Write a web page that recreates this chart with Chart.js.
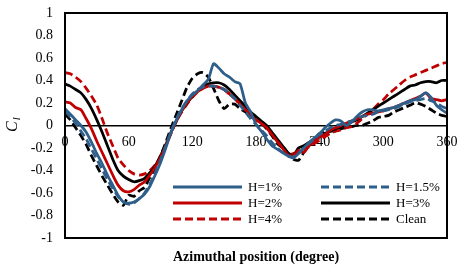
<!DOCTYPE html>
<html>
<head>
<meta charset="utf-8">
<script src="https://cdn.jsdelivr.net/npm/chart.js@4.4.0/dist/chart.umd.min.js"></script>
<style>
    html, body { margin: 0; padding: 0; background: #fff; }
    #wrap { width: 459px; height: 268px; }
</style>
</head>
<body>
<div id="wrap"><canvas id="myLineChart"></canvas></div>
<script>
// azimuthal position (degree), every 5 degrees
const angles = [];
for (let a = 0; a <= 360; a += 5) angles.push(a);

// lift coefficient C_l for each roughness height
const h1 = [0.15, 0.10, 0.05, 0.00, -0.06, -0.15, -0.25, -0.34, -0.44, -0.53, -0.62, -0.68, -0.69, -0.68, -0.65, -0.61, -0.54, -0.44, -0.33,
    -0.20, -0.06, 0.05, 0.14, 0.22, 0.27, 0.31, 0.36, 0.41, 0.55, 0.51, 0.46, 0.43, 0.39, 0.37, 0.20, 0.12, 0.01,
    -0.05, -0.12, -0.18, -0.21, -0.24, -0.27, -0.29, -0.25, -0.20, -0.15, -0.11, -0.07, -0.02, 0.02, 0.05, 0.04, 0.00,
    0.03, 0.08, 0.12, 0.14, 0.14, 0.13, 0.14, 0.15, 0.16, 0.18, 0.20, 0.22, 0.23, 0.26, 0.29, 0.25, 0.18, 0.14, 0.11];
const h15 = [0.13, 0.08, 0.02, -0.05, -0.12, -0.21, -0.30, -0.39, -0.48, -0.56, -0.63, -0.68, -0.70, -0.69, -0.65, -0.60, -0.52, -0.42, -0.31,
    -0.18, -0.05, 0.06, 0.15, 0.22, 0.28, 0.32, 0.34, 0.35, 0.35, 0.34, 0.32, 0.28, 0.24, 0.18, 0.12, 0.06, 0.01,
    -0.04, -0.09, -0.15, -0.20, -0.24, -0.27, -0.28, -0.25, -0.20, -0.16, -0.12, -0.08, -0.05, -0.02, 0.00, 0.01, 0.03,
    0.04, 0.06, 0.08, 0.09, 0.10, 0.12, 0.13, 0.14, 0.15, 0.17, 0.19, 0.21, 0.22, 0.23, 0.24, 0.22, 0.20, 0.17, 0.15];
const h2 = [0.21, 0.20, 0.16, 0.14, 0.06, -0.03, -0.14, -0.24, -0.34, -0.44, -0.53, -0.58, -0.59, -0.57, -0.53, -0.50, -0.44, -0.37, -0.28,
    -0.18, -0.06, 0.04, 0.13, 0.20, 0.26, 0.30, 0.33, 0.35, 0.35, 0.34, 0.32, 0.28, 0.24, 0.19, 0.14, 0.09, 0.05,
    0.02, -0.02, -0.08, -0.14, -0.20, -0.26, -0.27, -0.22, -0.24, -0.18, -0.14, -0.10, -0.08, -0.04, -0.02, 0.00, 0.02,
    0.04, 0.06, 0.08, 0.10, 0.11, 0.12, 0.13, 0.15, 0.16, 0.18, 0.20, 0.22, 0.24, 0.26, 0.29, 0.24, 0.23, 0.22, 0.23];
const h3 = [0.37, 0.35, 0.32, 0.29, 0.23, 0.15, 0.05, -0.06, -0.18, -0.30, -0.40, -0.45, -0.48, -0.50, -0.49, -0.47, -0.42, -0.36, -0.27,
    -0.17, -0.06, 0.04, 0.13, 0.20, 0.26, 0.31, 0.35, 0.37, 0.38, 0.38, 0.36, 0.32, 0.27, 0.22, 0.17, 0.12, 0.08,
    0.04, 0.00, -0.06, -0.12, -0.18, -0.24, -0.27, -0.20, -0.18, -0.15, -0.12, -0.09, -0.07, -0.05, -0.03, -0.01, 0.01,
    0.03, 0.05, 0.08, 0.11, 0.14, 0.17, 0.20, 0.23, 0.26, 0.29, 0.32, 0.35, 0.36, 0.38, 0.39, 0.39, 0.38, 0.40, 0.40];
const h4 = [0.47, 0.46, 0.43, 0.39, 0.33, 0.26, 0.18, 0.06, -0.07, -0.18, -0.29, -0.35, -0.40, -0.43, -0.44, -0.43, -0.40, -0.35, -0.28,
    -0.18, -0.07, 0.04, 0.12, 0.19, 0.25, 0.30, 0.33, 0.35, 0.35, 0.34, 0.32, 0.28, 0.24, 0.19, 0.14, 0.10, 0.06,
    0.02, -0.02, -0.08, -0.14, -0.20, -0.26, -0.25, -0.23, -0.20, -0.19, -0.16, -0.13, -0.10, -0.07, -0.05, -0.04, -0.02,
    -0.01, 0.02, 0.06, 0.10, 0.14, 0.19, 0.23, 0.28, 0.32, 0.36, 0.40, 0.43, 0.45, 0.47, 0.49, 0.51, 0.53, 0.55, 0.56];
const clean = [0.10, 0.05, -0.02, -0.09, -0.17, -0.27, -0.36, -0.45, -0.53, -0.61, -0.68, -0.71, -0.62, -0.63, -0.58, -0.55, -0.46, -0.38, -0.27,
    -0.15, -0.02, 0.10, 0.22, 0.34, 0.42, 0.46, 0.47, 0.43, 0.33, 0.22, 0.15, 0.19, 0.19, 0.15, 0.12, 0.08, 0.05,
    0.02, -0.03, -0.09, -0.16, -0.20, -0.26, -0.30, -0.31, -0.24, -0.18, -0.12, -0.07, -0.06, -0.05, -0.05, -0.03, -0.02,
    -0.01, 0.00, 0.00, 0.02, 0.04, 0.07, 0.08, 0.09, 0.12, 0.14, 0.16, 0.18, 0.20, 0.19, 0.17, 0.14, 0.11, 0.09, 0.08];

const series_names = ['H=1%', 'H=1.5%', 'H=2%', 'H=3%', 'H=4%', 'Clean'];
const x_ticks = [0, 60, 120, 180, 240, 300, 360];
const y_ticks = [-1, -0.8, -0.6, -0.4, -0.2, 0, 0.2, 0.4, 0.6, 0.8, 1];

const serif = "'Liberation Serif', 'Times New Roman', serif";
const blue = '#2E5E8A';
const red = '#C00000';
const dash = [8, 4];

function to_points(vals) {
    return vals.map((v, i) => ({ x: angles[i], y: v }));
}

function make_set(label, vals, color, dashed) {
    return {
        label: label,
        data: to_points(vals),
        borderColor: color,
        backgroundColor: color,
        borderWidth: 2.75,
        borderDash: dashed ? dash : [],
        pointRadius: 0,
        tension: 0.2,
        fill: false
    };
}

// frame, custom two-column legend and axis titles
const deco_plugin = {
    id: 'deco_plugin',
    afterDraw(chart) {
        const ctx = chart.ctx;
        const a = chart.chartArea;
        ctx.save();

        ctx.strokeStyle = '#000';
        ctx.lineWidth = 2;
        ctx.strokeRect(a.left, a.top, a.right - a.left, a.bottom - a.top);

        // legend
        const cols = [a.left + 108, a.left + 256];
        const rows = [a.bottom - 51, a.bottom - 35, a.bottom - 19];
        ctx.font = '13px ' + serif;
        ctx.textBaseline = 'middle';
        ctx.textAlign = 'left';
        chart.data.datasets.forEach((ds, i) => {
            const cx = cols[i % 2];
            const cy = rows[Math.floor(i / 2)];
            ctx.beginPath();
            ctx.setLineDash(ds.borderDash);
            ctx.strokeStyle = ds.borderColor;
            ctx.lineWidth = 3;
            ctx.moveTo(cx, cy);
            ctx.lineTo(cx + 69, cy);
            ctx.stroke();
            ctx.setLineDash([]);
            ctx.fillStyle = '#000';
            ctx.fillText(ds.label, cx + 75, cy + 1);
        });

        // x title
        ctx.font = 'bold 14px ' + serif;
        ctx.textAlign = 'center';
        ctx.fillText('Azimuthal position (degree)', (a.left + a.right) / 2, 257);

        // y title C_l
        ctx.translate(13, 132);
        ctx.rotate(-Math.PI / 2);
        ctx.textAlign = 'left';
        ctx.font = 'italic 16px ' + serif;
        ctx.fillText('C', 0, 0);
        const w = ctx.measureText('C').width;
        ctx.font = 'italic 11px ' + serif;
        ctx.fillText('l', w + 1, 4);
        ctx.restore();
    }
};

window.onload = () => {
    const ctx = document.getElementById('myLineChart').getContext('2d');
    window.myLineChart = new Chart(ctx, {
        type: 'line',
        data: {
            datasets: [
                make_set(series_names[0], h1, blue, false),
                make_set(series_names[1], h15, blue, true),
                make_set(series_names[2], h2, red, false),
                make_set(series_names[3], h3, '#000', false),
                make_set(series_names[4], h4, red, true),
                make_set(series_names[5], clean, '#000', true)
            ]
        },
        options: {
            responsive: true,
            maintainAspectRatio: false,
            animation: false,
            layout: {
                padding: { left: 0, top: 13, right: 12, bottom: 30 }
            },
            plugins: {
                legend: { display: false },
                tooltip: { enabled: false }
            },
            scales: {
                x: {
                    type: 'linear',
                    position: { y: 0 },
                    min: 0,
                    max: 360,
                    afterBuildTicks: (s) => { s.ticks = x_ticks.map(v => ({ value: v })); },
                    afterFit: (s) => { s.paddingLeft = 0; s.paddingRight = 0; },
                    ticks: {
                        color: '#000',
                        font: { family: serif, size: 14 },
                        padding: 8,
                        maxRotation: 0
                    },
                    grid: { display: false, drawTicks: false },
                    border: { display: true, color: '#000', width: 1.5 }
                },
                y: {
                    min: -1,
                    max: 1,
                    afterBuildTicks: (s) => { s.ticks = y_ticks.map(v => ({ value: v })); },
                    afterFit: (s) => { s.width = 65; s.paddingTop = 0; s.paddingBottom = 0; },
                    ticks: {
                        color: '#000',
                        font: { family: serif, size: 14 },
                        padding: 12,
                        callback: (v) => String(Number(v.toFixed(1)))
                    },
                    grid: { display: false, drawTicks: false },
                    border: { display: true, color: '#000', width: 2 }
                }
            }
        },
        plugins: [deco_plugin]
    });
}
</script>
</body>
</html>
